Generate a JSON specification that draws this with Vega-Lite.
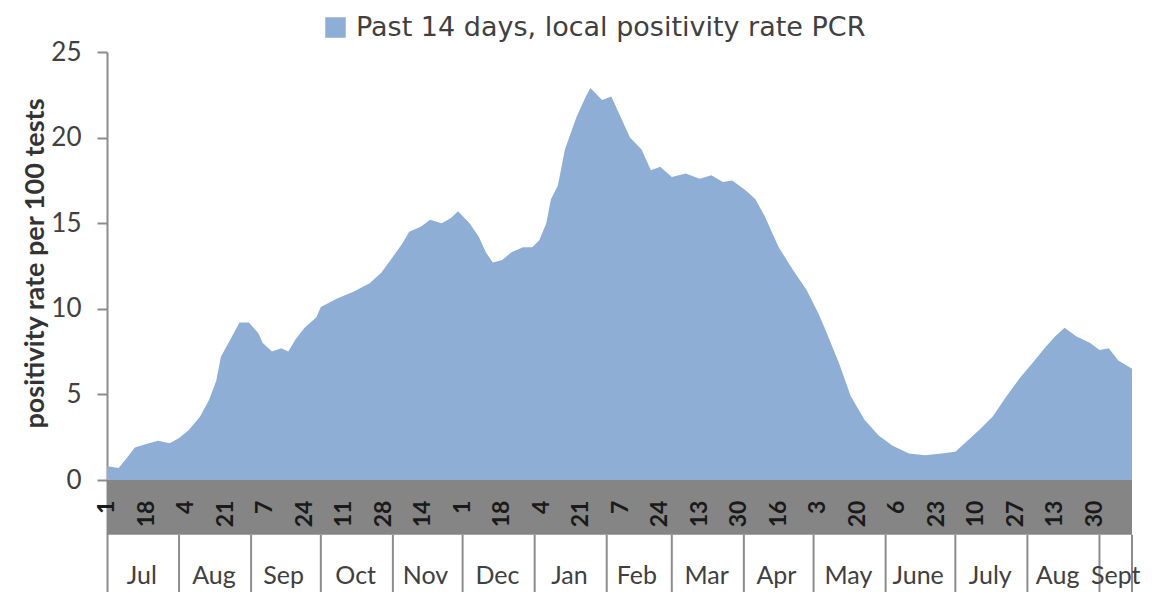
{
  "$schema": "https://vega.github.io/schema/vega-lite/v6.json",
  "width": 1025,
  "height": 540,
  "autosize": {"type": "none"},
  "padding": {"left": 107, "top": 52, "right": 26, "bottom": 0},
  "background": "white",
  "config": {"view": {"stroke": null}, "font": "Lato"},
  "datasets": {
    "series": [
      {"date": "2020-07-01", "value": 0.8},
      {"date": "2020-07-06", "value": 0.7},
      {"date": "2020-07-09", "value": 1.2},
      {"date": "2020-07-13", "value": 1.9},
      {"date": "2020-07-19", "value": 2.15},
      {"date": "2020-07-23", "value": 2.3},
      {"date": "2020-07-28", "value": 2.15},
      {"date": "2020-08-01", "value": 2.45},
      {"date": "2020-08-05", "value": 2.9},
      {"date": "2020-08-10", "value": 3.7},
      {"date": "2020-08-14", "value": 4.7},
      {"date": "2020-08-17", "value": 5.8},
      {"date": "2020-08-19", "value": 7.2},
      {"date": "2020-08-23", "value": 8.2},
      {"date": "2020-08-27", "value": 9.2},
      {"date": "2020-08-31", "value": 9.2},
      {"date": "2020-09-04", "value": 8.6},
      {"date": "2020-09-06", "value": 8.0},
      {"date": "2020-09-10", "value": 7.5},
      {"date": "2020-09-14", "value": 7.7},
      {"date": "2020-09-17", "value": 7.5},
      {"date": "2020-09-20", "value": 8.2},
      {"date": "2020-09-24", "value": 8.9},
      {"date": "2020-09-29", "value": 9.5},
      {"date": "2020-10-01", "value": 10.1},
      {"date": "2020-10-08", "value": 10.6},
      {"date": "2020-10-15", "value": 11.0},
      {"date": "2020-10-22", "value": 11.5},
      {"date": "2020-10-27", "value": 12.1},
      {"date": "2020-10-31", "value": 12.85},
      {"date": "2020-11-05", "value": 13.8},
      {"date": "2020-11-08", "value": 14.5},
      {"date": "2020-11-13", "value": 14.8},
      {"date": "2020-11-17", "value": 15.2},
      {"date": "2020-11-22", "value": 15.0},
      {"date": "2020-11-26", "value": 15.3},
      {"date": "2020-11-29", "value": 15.7},
      {"date": "2020-12-04", "value": 15.0},
      {"date": "2020-12-08", "value": 14.2},
      {"date": "2020-12-11", "value": 13.3},
      {"date": "2020-12-14", "value": 12.7},
      {"date": "2020-12-18", "value": 12.85},
      {"date": "2020-12-22", "value": 13.3},
      {"date": "2020-12-27", "value": 13.6},
      {"date": "2020-12-31", "value": 13.6},
      {"date": "2021-01-03", "value": 14.0},
      {"date": "2021-01-06", "value": 15.0},
      {"date": "2021-01-08", "value": 16.4},
      {"date": "2021-01-11", "value": 17.2},
      {"date": "2021-01-14", "value": 19.3},
      {"date": "2021-01-19", "value": 21.2},
      {"date": "2021-01-23", "value": 22.4},
      {"date": "2021-01-25", "value": 22.9},
      {"date": "2021-01-30", "value": 22.2},
      {"date": "2021-02-03", "value": 22.4},
      {"date": "2021-02-07", "value": 21.2},
      {"date": "2021-02-11", "value": 20.0},
      {"date": "2021-02-16", "value": 19.3},
      {"date": "2021-02-20", "value": 18.1},
      {"date": "2021-02-24", "value": 18.3},
      {"date": "2021-03-01", "value": 17.7},
      {"date": "2021-03-07", "value": 17.9},
      {"date": "2021-03-13", "value": 17.6},
      {"date": "2021-03-18", "value": 17.8},
      {"date": "2021-03-23", "value": 17.4},
      {"date": "2021-03-27", "value": 17.5},
      {"date": "2021-04-02", "value": 16.9},
      {"date": "2021-04-06", "value": 16.4},
      {"date": "2021-04-10", "value": 15.4},
      {"date": "2021-04-16", "value": 13.6},
      {"date": "2021-04-22", "value": 12.3},
      {"date": "2021-04-28", "value": 11.1},
      {"date": "2021-05-03", "value": 9.75},
      {"date": "2021-05-06", "value": 8.8},
      {"date": "2021-05-12", "value": 6.8},
      {"date": "2021-05-17", "value": 4.9},
      {"date": "2021-05-23", "value": 3.5},
      {"date": "2021-05-29", "value": 2.6},
      {"date": "2021-06-04", "value": 2.0},
      {"date": "2021-06-11", "value": 1.55},
      {"date": "2021-06-18", "value": 1.45},
      {"date": "2021-06-25", "value": 1.55},
      {"date": "2021-07-01", "value": 1.65},
      {"date": "2021-07-05", "value": 2.15},
      {"date": "2021-07-11", "value": 2.9},
      {"date": "2021-07-17", "value": 3.7},
      {"date": "2021-07-23", "value": 4.9},
      {"date": "2021-07-29", "value": 6.0},
      {"date": "2021-08-03", "value": 6.8},
      {"date": "2021-08-09", "value": 7.8},
      {"date": "2021-08-13", "value": 8.4},
      {"date": "2021-08-17", "value": 8.9},
      {"date": "2021-08-22", "value": 8.4},
      {"date": "2021-08-28", "value": 8.0},
      {"date": "2021-09-01", "value": 7.6},
      {"date": "2021-09-05", "value": 7.7},
      {"date": "2021-09-09", "value": 7.0},
      {"date": "2021-09-15", "value": 6.5}
    ],
    "ticks": [
      {"date": "2020-07-01", "day": "1"},
      {"date": "2020-07-18", "day": "18"},
      {"date": "2020-08-04", "day": "4"},
      {"date": "2020-08-21", "day": "21"},
      {"date": "2020-09-07", "day": "7"},
      {"date": "2020-09-24", "day": "24"},
      {"date": "2020-10-11", "day": "11"},
      {"date": "2020-10-28", "day": "28"},
      {"date": "2020-11-14", "day": "14"},
      {"date": "2020-12-01", "day": "1"},
      {"date": "2020-12-18", "day": "18"},
      {"date": "2021-01-04", "day": "4"},
      {"date": "2021-01-21", "day": "21"},
      {"date": "2021-02-07", "day": "7"},
      {"date": "2021-02-24", "day": "24"},
      {"date": "2021-03-13", "day": "13"},
      {"date": "2021-03-30", "day": "30"},
      {"date": "2021-04-16", "day": "16"},
      {"date": "2021-05-03", "day": "3"},
      {"date": "2021-05-20", "day": "20"},
      {"date": "2021-06-06", "day": "6"},
      {"date": "2021-06-23", "day": "23"},
      {"date": "2021-07-10", "day": "10"},
      {"date": "2021-07-27", "day": "27"},
      {"date": "2021-08-13", "day": "13"},
      {"date": "2021-08-30", "day": "30"}
    ],
    "bounds": [
      {"date": "2020-08-01"}, {"date": "2020-09-01"}, {"date": "2020-10-01"},
      {"date": "2020-11-01"}, {"date": "2020-12-01"}, {"date": "2021-01-01"},
      {"date": "2021-02-01"}, {"date": "2021-03-01"}, {"date": "2021-04-01"},
      {"date": "2021-05-01"}, {"date": "2021-06-01"}, {"date": "2021-07-01"},
      {"date": "2021-08-01"}, {"date": "2021-09-01"}, {"date": "2021-09-15"}
    ],
    "band": [
      {"start": "2020-07-01", "end": "2021-09-15"}
    ],
    "months": [
      {"date": "2020-07-16", "name": "Jul"},
      {"date": "2020-08-16", "name": "Aug"},
      {"date": "2020-09-15", "name": "Sep"},
      {"date": "2020-10-16", "name": "Oct"},
      {"date": "2020-11-15", "name": "Nov"},
      {"date": "2020-12-16", "name": "Dec"},
      {"date": "2021-01-16", "name": "Jan"},
      {"date": "2021-02-14", "name": "Feb"},
      {"date": "2021-03-16", "name": "Mar"},
      {"date": "2021-04-15", "name": "Apr"},
      {"date": "2021-05-16", "name": "May"},
      {"date": "2021-06-15", "name": "June"},
      {"date": "2021-07-16", "name": "July"},
      {"date": "2021-08-14", "name": "Aug"},
      {"date": "2021-09-08", "name": "Sept"}
    ]
  },
  "layer": [
    {
      "data": {"name": "series"},
      "mark": {"type": "area", "interpolate": "linear"},
      "encoding": {
        "x": {
          "field": "date",
          "type": "temporal",
          "scale": {
            "type": "utc",
            "domain": [
              {"year": 2020, "month": 7, "date": 1, "utc": true},
              {"year": 2021, "month": 9, "date": 15, "utc": true}
            ]
          },
          "axis": null
        },
        "y": {
          "field": "value",
          "type": "quantitative",
          "scale": {"domain": [-6.54, 25], "nice": false, "zero": false},
          "axis": {
            "title": "positivity rate per 100 tests",
            "values": [0, 5, 10, 15, 20, 25],
            "grid": false,
            "domainColor": "#8c8c8c",
            "domainWidth": 2,
            "tickColor": "#8c8c8c",
            "tickWidth": 2,
            "tickSize": 10,
            "labelFontSize": 26,
            "labelFont": "Lato",
            "labelColor": "#404040",
            "labelPadding": 16,
            "titleFont": "Lato",
            "titleFontSize": 27,
            "titleFontWeight": "bold",
            "titleColor": "#333333",
            "titleAngle": 270,
            "titleAlign": "center",
            "titleBaseline": "middle",
            "titleX": -72,
            "titleY": 211
          }
        },
        "color": {
          "datum": "Past 14 days, local positivity rate PCR",
          "type": "nominal",
          "scale": {"range": ["#8faed6"]},
          "legend": {
            "orient": "none",
            "legendX": 215,
            "legendY": -38,
            "title": null,
            "symbolType": "square",
            "symbolSize": 420,
            "symbolStrokeWidth": 0,
            "symbolOpacity": 1,
            "labelFont": "DejaVu Sans",
            "labelFontSize": 27,
            "labelColor": "#404040",
            "labelOffset": 7,
            "labelLimit": 0,
            "padding": 0
          }
        }
      }
    },
    {
      "data": {"name": "band"},
      "mark": {"type": "rect", "color": "#858585"},
      "encoding": {
        "x": {"field": "start", "type": "temporal"},
        "x2": {"field": "end"},
        "y": {"datum": 0, "type": "quantitative"},
        "y2": {"datum": -3.2}
      }
    },
    {
      "data": {"name": "bounds"},
      "mark": {"type": "rule", "color": "#8c8c8c", "strokeWidth": 2},
      "encoding": {
        "x": {"field": "date", "type": "temporal"},
        "y": {"datum": -3.2, "type": "quantitative"},
        "y2": {"datum": -6.54}
      }
    },
    {
      "data": {"name": "ticks"},
      "mark": {"type": "text", "angle": 270, "align": "right", "baseline": "middle", "font": "Lato", "fontWeight": "bold", "fontSize": 23, "color": "#1a1a1a"},
      "encoding": {
        "x": {"field": "date", "type": "temporal"},
        "y": {"datum": -1.2, "type": "quantitative"},
        "text": {"field": "day", "type": "nominal"}
      }
    },
    {
      "data": {"name": "months"},
      "mark": {"type": "text", "align": "center", "baseline": "middle", "font": "Lato", "fontSize": 25, "color": "#404040"},
      "encoding": {
        "x": {"field": "date", "type": "temporal"},
        "y": {"datum": -5.6, "type": "quantitative"},
        "text": {"field": "name", "type": "nominal"}
      }
    }
  ]
}
